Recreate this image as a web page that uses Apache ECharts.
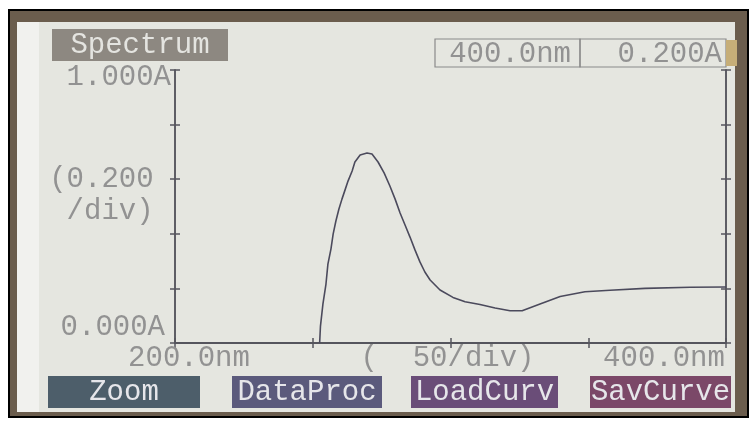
<!DOCTYPE html>
<html>
<head>
<meta charset="utf-8">
<script src="https://cdn.jsdelivr.net/npm/echarts@6/dist/echarts.min.js"></script>
<style>
	html, body { margin: 0; padding: 0; background: #fff; }
	#echart { width: 756px; height: 421px; }
</style>
</head>
<body>
<div id="echart"></div>
<script>
	// spectrum: wavelength (nm) / absorbance (A)
	var wavelength = [252.5, 252.8, 253.7, 254.8, 255.5, 256.6, 257.4, 258.4, 259.5, 260.6,
		261.7, 262.8, 264.3, 265.3, 267.2, 269.7, 271.5, 273.7, 275.9, 278.0,
		279.9, 281.7, 283.5, 285.3, 287.1, 288.9, 290.7, 292.6, 296.2, 300.9,
		305.3, 310.7, 316.2, 321.6, 326.0, 332.5, 339.8, 348.8, 357.9, 370.6,
		387.0, 400.0];
	var absorbance = [0, 0.062, 0.143, 0.216, 0.289, 0.344, 0.399, 0.447, 0.491, 0.527,
		0.560, 0.593, 0.630, 0.663, 0.689, 0.696, 0.692, 0.663, 0.623, 0.575,
		0.527, 0.476, 0.432, 0.388, 0.341, 0.297, 0.260, 0.231, 0.194, 0.167,
		0.151, 0.141, 0.128, 0.118, 0.118, 0.143, 0.170, 0.188, 0.193, 0.200,
		0.204, 0.205];

	var xTickValues = [200, 300, 400];
	var xTickLabels = ['200.0nm', '(  50/div)', '400.0nm'];
	var yTickValues = [0, 0.6, 1];
	var yTickLabels = ['0.000A', '(0.200\n/div)', '1.000A'];

	var title = 'Spectrum';
	var readout = ['400.0nm', '0.200A'];
	var buttons = ['Zoom', 'DataProc', 'LoadCurv', 'SavCurve'];

	var FONT = '"Liberation Mono", "DejaVu Sans Mono", monospace';
	var lcdText = '#929292';
	var lineColor = '#56565e';

	function pick(values, labels, v) {
		for (var i = 0; i < values.length; i++) {
			if (Math.abs(values[i] - v) < 1e-6) return labels[i];
		}
		return '';
	}

	function xAx(pos, inside, withLabel) {
		return {
			type: 'value', min: 200, max: 400, interval: 50, position: pos,
			axisLine: { show: true, lineStyle: { color: lineColor, width: 1.5 } },
			axisTick: { show: true, inside: inside, length: 5, lineStyle: { color: lineColor, width: 1.5 } },
			splitLine: { show: false },
			axisLabel: withLabel ? {
				show: true, margin: 1, color: lcdText, fontFamily: FONT, fontSize: 29,
				formatter: function (v) {
					var t = pick(xTickValues, xTickLabels, v);
					if (!t) return '';
					if (v === 200) return '{a|' + t + '}';
					if (v === 400) return '{b|' + t + '}';
					return '{c|' + t + '}';
				},
				rich: {
					a: { fontFamily: FONT, fontSize: 29, color: lcdText, padding: [0, 0, 0, 28] },
					b: { fontFamily: FONT, fontSize: 29, color: lcdText, padding: [0, 124, 0, 0] },
					c: { fontFamily: FONT, fontSize: 29, color: lcdText, padding: [0, 6, 0, 0] }
				}
			} : { show: false }
		};
	}

	function yAx(pos, inside, withLabel) {
		return {
			type: 'value', min: 0, max: 1, interval: 0.2, position: pos,
			axisLine: { show: true, lineStyle: { color: lineColor, width: 1.5 } },
			axisTick: { show: true, inside: inside, length: 5, lineStyle: { color: lineColor, width: 1.5 } },
			splitLine: { show: false },
			axisLabel: withLabel ? {
				show: true, margin: 4, color: lcdText, fontFamily: FONT, fontSize: 29, lineHeight: 32,
				formatter: function (v) {
					var t = pick(yTickValues, yTickLabels, v);
					if (!t) return '';
					if (v === 1) return '{top|' + t + '}';
					if (v === 0) return '{bot|' + t + '}';
					// the two-line "per div" note sits a little under its tick
					var parts = t.split('\n');
					return ' \n' + parts[0] + ' \n' + parts[1] + ' ';
				},
				rich: {
					top: { fontFamily: FONT, fontSize: 29, color: lcdText, padding: [14, 0, 0, 0] },
					bot: { fontFamily: FONT, fontSize: 29, color: lcdText, padding: [0, 6, 32, 0] }
				}
			} : { show: false }
		};
	}

	var boxes = [[48, 200, '#4d5e6a'], [232, 382, '#5b5a7c'], [411, 558, '#6a4d78'], [590, 731, '#7b4868']];

	var graphic = [
		{ type: 'rect', z: -20, shape: { x: 9, y: 10, width: 739, height: 407 }, style: { fill: '#6b5d4d', stroke: '#000', lineWidth: 2 } },
		{ type: 'rect', z: -19, shape: { x: 17, y: 22, width: 718, height: 390 }, style: { fill: '#e5e6e0' } },
		{ type: 'rect', z: -18, shape: { x: 17, y: 22, width: 22, height: 390 }, style: { fill: '#f1f1ee' } },
		{ type: 'rect', z: -17, shape: { x: 52, y: 29, width: 176, height: 32 }, style: { fill: '#8d8881' } },
		{ type: 'text', z: 10, x: 140, y: 45, style: { text: title, fontFamily: FONT, fontSize: 29, fill: '#e4e4e0', align: 'center', verticalAlign: 'middle' } },
		{ type: 'rect', z: -17, shape: { x: 435, y: 39, width: 145, height: 28 }, style: { fill: 'none', stroke: '#8a8a8a', lineWidth: 1.2 } },
		{ type: 'rect', z: -17, shape: { x: 580, y: 39, width: 146, height: 28 }, style: { fill: 'none', stroke: '#8a8a8a', lineWidth: 1.2 } },
		{ type: 'rect', z: -17, shape: { x: 726, y: 40, width: 11, height: 26 }, style: { fill: '#c6ae78' } },
		{ type: 'text', z: 10, x: 571, y: 54, style: { text: readout[0], fontFamily: FONT, fontSize: 29, fill: lcdText, align: 'right', verticalAlign: 'middle' } },
		{ type: 'text', z: 10, x: 722, y: 54, style: { text: readout[1], fontFamily: FONT, fontSize: 29, fill: lcdText, align: 'right', verticalAlign: 'middle' } }
	];
	buttons.forEach(function (name, i) {
		var b = boxes[i];
		graphic.push({ type: 'rect', z: -17, shape: { x: b[0], y: 376, width: b[1] - b[0], height: 32 }, style: { fill: b[2] } });
		graphic.push({ type: 'text', z: 10, x: (b[0] + b[1]) / 2, y: 392, style: { text: name, fontFamily: FONT, fontSize: 29, fill: '#e6e6ea', align: 'center', verticalAlign: 'middle' } });
	});

	var myChart = echarts.init(document.getElementById('echart'));
	myChart.setOption({
		animation: false,
		backgroundColor: '#fff',
		grid: { left: 175, right: 30, top: 70, bottom: 78 },
		xAxis: [xAx('bottom', true, true), xAx('bottom', false, false), xAx('top', true, false), xAx('top', false, false)],
		yAxis: [yAx('left', true, true), yAx('left', false, false), yAx('right', true, false), yAx('right', false, false)],
		graphic: graphic,
		series: [{
			type: 'line',
			xAxisIndex: 0,
			yAxisIndex: 0,
			showSymbol: false,
			data: wavelength.map(function (w, i) { return [w, absorbance[i]]; }),
			lineStyle: { color: '#4b4a5c', width: 1.6 }
		}]
	});
</script>
</body>
</html>
